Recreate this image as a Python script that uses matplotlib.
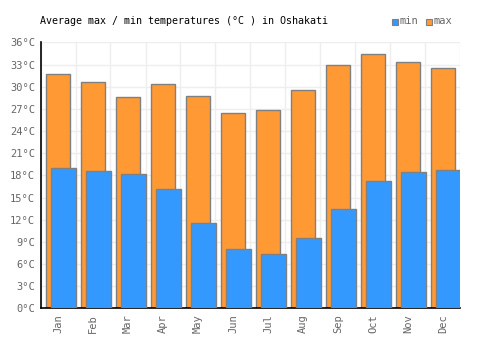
import matplotlib
matplotlib.use("Agg")
import matplotlib.pyplot as plt
import numpy as np
from matplotlib.patches import Rectangle

months = ["Jan", "Feb", "Mar", "Apr", "May", "Jun", "Jul", "Aug", "Sep", "Oct", "Nov", "Dec"]
max_temps = [31.7, 30.6, 28.55, 30.3, 28.7, 26.5, 26.8, 29.5, 33.0, 34.4, 33.4, 32.5]
min_temps = [19.0, 18.6, 18.25, 16.2, 11.6, 8.0, 7.3, 9.5, 13.5, 17.2, 18.5, 18.7]
yticks = list(range(0, 37, 3))

plt.rcParams['font.family'] = ['DejaVu Sans Mono']

fig = plt.figure(figsize=(5, 3.5), dpi=100)
ax = fig.add_axes([0.081, 0.119, 0.84, 0.760])

x = np.arange(len(months))
edge = '#808080'
ax.bar(x, max_temps, width=0.67, color='#ff9933', edgecolor=edge, linewidth=1, zorder=2)
ax.bar(x + 0.153, min_temps, width=0.70, color='#3399ff', edgecolor=edge, linewidth=1, zorder=3)

ax.set_xlim(-0.5, 11.5)
ax.set_ylim(0, 36)
ax.set_yticks(yticks)
ax.set_yticklabels([f"{v}°C" for v in yticks], fontsize=7.5, color='#666666')
ax.set_xticks(x)
ax.set_xticklabels(months, rotation=90, fontsize=7.5, color='#666666')
ax.set_xticks(np.arange(-0.5, 12, 1), minor=True)
ax.tick_params(axis='both', which='both', length=0, pad=4)
ax.grid(True, axis='y', color='#eeeeee', linewidth=1, zorder=0)
ax.grid(True, axis='x', which='minor', color='#eeeeee', linewidth=1, zorder=0)
ax.grid(False, axis='x', which='major')
ax.set_axisbelow(True)

for s in ['top', 'right']:
    ax.spines[s].set_visible(False)
for s in ['left', 'bottom']:
    ax.spines[s].set_color('black')
    ax.spines[s].set_linewidth(1.2)

fig.text(40 / 500, 1 - 21 / 350, "Average max / min temperatures (°C ) in Oshakati",
         fontsize=7.2, color='black', va='center', ha='left')

# legend
fig.patches.append(Rectangle((392 / 500, 1 - 25 / 350), 6 / 500, 6 / 350, transform=fig.transFigure,
                             facecolor='#3399ff', edgecolor=edge, linewidth=0.8))
fig.text(400 / 500, 1 - 21 / 350, "min", fontsize=7.5, color='#666666', va='center', ha='left')
fig.patches.append(Rectangle((426 / 500, 1 - 25 / 350), 6 / 500, 6 / 350, transform=fig.transFigure,
                             facecolor='#ff9933', edgecolor=edge, linewidth=0.8))
fig.text(434 / 500, 1 - 21 / 350, "max", fontsize=7.5, color='#666666', va='center', ha='left')

fig.savefig("out.png", dpi=100)
